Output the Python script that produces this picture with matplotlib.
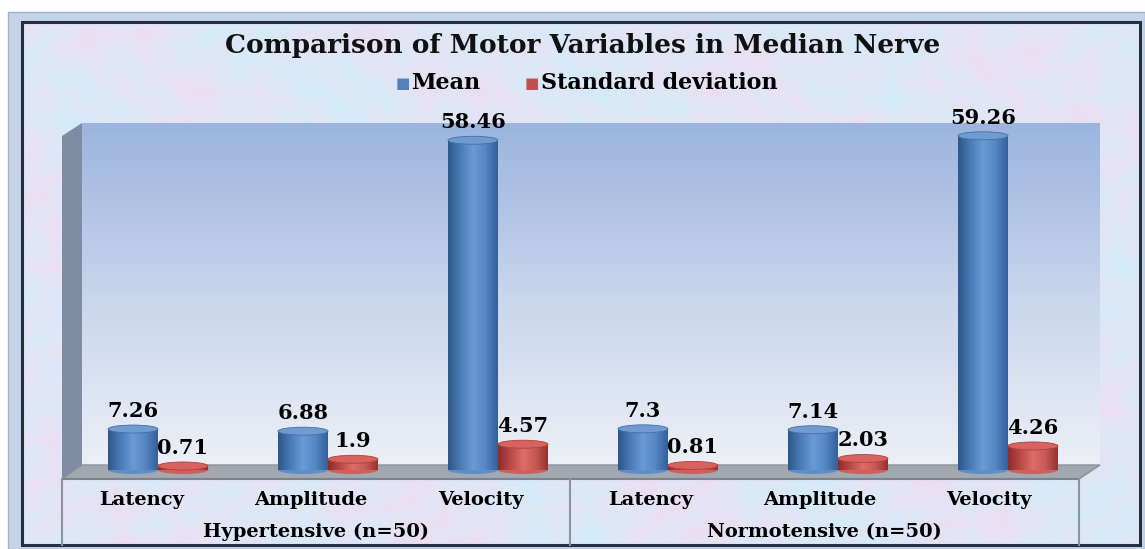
import numpy as np
import matplotlib.pyplot as plt
from matplotlib.patches import Polygon, Rectangle, Ellipse
from matplotlib.colors import LinearSegmentedColormap

# data
categories = ["Latency", "Amplitude", "Velocity", "Latency", "Amplitude", "Velocity"]
groups = ["Hypertensive (n=50)", "Normotensive (n=50)"]
mean_vals = [7.26, 6.88, 58.46, 7.3, 7.14, 59.26]
sd_vals = [0.71, 1.9, 4.57, 0.81, 2.03, 4.26]
series_names = ["Mean", "Standard deviation"]

W, H = 1145, 549
blue, red = "#4f81bd", "#c0504d"
font = "DejaVu Serif"


def px(x0, y0, x1, y1):
    # pixel box (top-left origin) -> figure fraction rect
    return [x0 / W, 1 - y1 / H, (x1 - x0) / W, (y1 - y0) / H]


fig = plt.figure(figsize=(W / 100, H / 100), dpi=100)

# background layer in pixel coordinates
bg = fig.add_axes([0, 0, 1, 1])
bg.set_xlim(0, W)
bg.set_ylim(H, 0)
bg.axis("off")

# outer frame
bg.add_patch(Rectangle((8, 12), W - 8, H - 12, fc="#c3d3ea", ec="#9fb0c8", lw=1))

# mottled pastel texture (decoration only)
yy, xx = np.mgrid[0:260, 0:560]
tex = (np.sin(xx / 9.0 + np.sin(yy / 13.0) * 2) * np.cos(yy / 7.0 + np.sin(xx / 17.0) * 2)
       + 0.7 * np.sin(xx / 23.0 - yy / 19.0)
       + 0.5 * np.sin(xx / 3.7 + yy / 4.3) * np.cos(xx / 5.1 - yy / 2.9)) / 2.2
tex_cmap = LinearSegmentedColormap.from_list("tex", ["#d2ecf8", "#e0e6f6", "#eedcf0"])
bg.imshow(tex, cmap=tex_cmap, extent=(22, 1140, 545, 22), aspect="auto",
          interpolation="bicubic", zorder=1)
bg.add_patch(Rectangle((22, 22), 1118, 523, fc="none", ec="#25303c", lw=2.2, zorder=2))

# back wall gradient
wall = np.linspace(0, 1, 200).reshape(-1, 1)
wall_cmap = LinearSegmentedColormap.from_list("wall", ["#9cb4de", "#c8d5ec", "#eceff6"])
bg.imshow(wall, cmap=wall_cmap, extent=(82, 1100, 465, 123), aspect="auto", zorder=2)

# side wall and floor
bg.add_patch(Polygon([(62, 136), (82, 123), (82, 465), (62, 479)],
                     closed=True, fc="#7f8ca3", ec="none", zorder=3))
bg.add_patch(Polygon([(62, 479), (82, 465), (1100, 465), (1079, 479)],
                     closed=True, fc="#a2a8b1", ec="#8a9099", lw=1, zorder=3))
bg.plot([62, 1079], [479, 479], color="#7d838c", lw=1.5, zorder=3)

# category box lines
for x in (62, 570, 1079):
    bg.plot([x, x], [479, 545], color="#8d939b", lw=1.5, zorder=3)

# title and legend
fig.text(583 / W, 1 - 46 / H, "Comparison of Motor Variables in Median Nerve",
         ha="center", va="center", fontsize=19, fontweight="bold",
         family=font, color="#111111")
fig.text(403 / W, 1 - 83 / H, "\u25A0", color=blue, fontsize=11,
         ha="center", va="center", family="DejaVu Sans")
fig.text(411 / W, 1 - 83 / H, series_names[0], fontsize=16, fontweight="bold",
         family=font, ha="left", va="center")
fig.text(532 / W, 1 - 83 / H, "\u25A0", color=red, fontsize=11,
         ha="center", va="center", family="DejaVu Sans")
fig.text(541 / W, 1 - 83 / H, series_names[1], fontsize=16, fontweight="bold",
         family=font, ha="left", va="center")

# bars
ax = fig.add_axes(px(73, 123, 1093, 470))
ax.set_xlim(-0.5, 5.5)
ax.set_ylim(0, (470 - 123) / 5.64)
ax.axis("off")
ax.patch.set_alpha(0)

x = np.arange(len(categories))
bw = 0.294
cap = 8 / 5.64

shade = np.linspace(0, 1, 64).reshape(1, -1)
cmaps = {
    blue: LinearSegmentedColormap.from_list("b", ["#2f5688", "#4a7cb8", "#6b9ad3", "#5587c4", "#35609a"]),
    red: LinearSegmentedColormap.from_list("r", ["#8e2c2a", "#bb4a47", "#dd6d69", "#c95956", "#97332f"]),
}
tops = {blue: "#6f9bd0", red: "#d8625e"}

for vals, offset, color in ((mean_vals, -bw / 2, blue), (sd_vals, bw / 2, red)):
    bars = ax.bar(x + offset, vals, width=bw, color=color, clip_on=False, zorder=3)
    for b, v in zip(bars, vals):
        x0, w, h = b.get_x(), b.get_width(), b.get_height()
        im = ax.imshow(shade, cmap=cmaps[color], extent=(x0, x0 + w, 0, h),
                       aspect="auto", zorder=4, clip_on=False)
        im.set_clip_path(b)
        ax.add_patch(Ellipse((x0 + w / 2, 0), w, cap, fc=cmaps[color](0.4),
                             ec="none", zorder=2.9, clip_on=False))
        ax.add_patch(Ellipse((x0 + w / 2, h), w, cap, fc=tops[color],
                             ec=cmaps[color](0.9), lw=0.6, zorder=5, clip_on=False))
        ax.annotate(str(v), (x0 + w / 2, h + cap / 2), xytext=(0, 3),
                    textcoords="offset points", ha="center", va="bottom",
                    fontsize=15, fontweight="bold", family=font, zorder=6)

# category axis labels (front box)
fx = fig.add_axes(px(62, 479, 1079, 545))
fx.set_xlim(-0.5, 5.5)
fx.set_ylim(545, 479)
fx.axis("off")
fx.patch.set_alpha(0)
for i, c in enumerate(categories):
    fx.text(i - 0.03, 500, c, ha="center", va="center", fontsize=14,
            fontweight="bold", family=font)
for j, g in enumerate(groups):
    fx.text(1 + 3 * j, 532, g, ha="center", va="center", fontsize=14,
            fontweight="bold", family=font)

fig.savefig("out.png", dpi=100)
